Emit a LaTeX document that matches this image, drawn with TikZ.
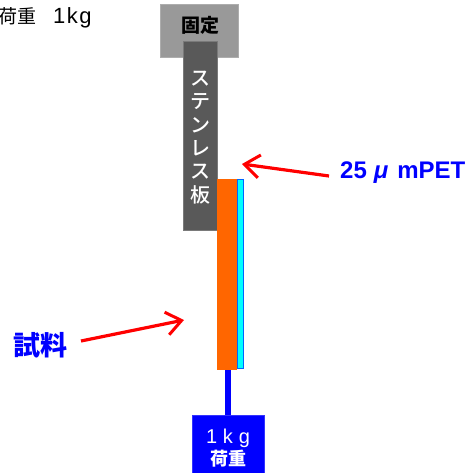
\documentclass[tikz,border=0pt]{standalone}
\usepackage{fontspec}
\setmainfont{Liberation Sans}
\newfontfamily\cjk{Noto Sans CJK JP}
\newfontfamily\cjkm{Noto Sans CJK JP Medium}
\usetikzlibrary{arrows.meta}
\definecolor{fixgray}{RGB}{153,153,153}
\definecolor{platedark}{RGB}{89,89,89}
\definecolor{sampleorange}{RGB}{255,102,0}
\definecolor{petcyan}{RGB}{0,255,255}
\definecolor{loadblue}{RGB}{0,0,255}
\tikzset{
  x=1pt,y=-1pt,
  block/.style={inner sep=0pt,outer sep=0pt,anchor=north west},
  callout/.style={draw=red,line width=3.2pt,-{Straight Barb[length=15pt,width=23pt,line width=3pt]}},
  bluelabel/.style={text=loadblue,inner sep=0pt},
}
\begin{document}
\begin{tikzpicture}
\useasboundingbox (0,0) rectangle (471,473);
\node[block,fill=fixgray,draw=fixgray!80!white,line width=.6pt,minimum width=78pt,minimum height=53pt] (fix) at (160.5,4.5) {};
\node[inner sep=0pt,font=\cjk\fontsize{19}{20}\selectfont,text=black] (fixt) at (200.5,25.5) {\textbf{固定}};
\node[block,fill=platedark,draw=platedark!80!white,line width=.6pt,minimum width=34pt,minimum height=189pt] (plate) at (183,41) {};
\node[inner sep=0pt,text=white,font=\cjkm\fontsize{20}{23.4}\selectfont,align=center,text width=24pt] (platet) at (200,137.5) {\centering ス\\テ\\ン\\レ\\ス\\板};
\node[block,fill=petcyan,draw=loadblue!60!petcyan,line width=.6pt,minimum width=6pt,minimum height=189pt] (pet) at (237,179.5) {};
\node[block,fill=sampleorange,minimum width=20pt,minimum height=191pt] (sample) at (217,179) {};
\node[block,fill=loadblue,draw=loadblue!80!white,line width=.6pt,minimum width=72pt,minimum height=58pt] (load) at (192,415) {};
\draw[loadblue,line width=6pt] (sample.south) ++(0.5,0) coordinate (wt) -- (wt |- load.north);
\node[inner sep=0pt,text=white,font=\fontsize{20}{20}\selectfont] (loadt1) at (228,438) {1\hspace{5.5pt}k\hspace{6pt}g};
\node[inner sep=0pt,text=white,font=\cjk\fontsize{18}{20}\selectfont] (loadt2) at (228,459) {\textbf{荷重}};
\node[inner sep=0pt,anchor=west,font=\cjk\fontsize{19}{20}\selectfont] (title) at (-2,18) {荷重\hspace{17pt}\fontspec{Liberation Sans}\fontsize{22}{22}\selectfont 1\hspace{1.5pt}k\hspace{1.5pt}g};
\node[bluelabel,anchor=west,font=\bfseries\fontsize{24}{26}\selectfont] (petl) at (340,173) {25\hspace{7pt}\textit{μ}\hspace{9pt}mPET};
\node[bluelabel,anchor=west,font=\cjk\fontsize{27}{28}\selectfont] (samplel) at (13.5,345.5) {\textbf{試料}};
\coordinate (petarrowend) at (242,164);
\coordinate (samplearrowend) at (184,320);
\draw[callout] (329,176) -- (petarrowend);
\draw[callout] (81,341) -- (samplearrowend);
\end{tikzpicture}
\end{document}
